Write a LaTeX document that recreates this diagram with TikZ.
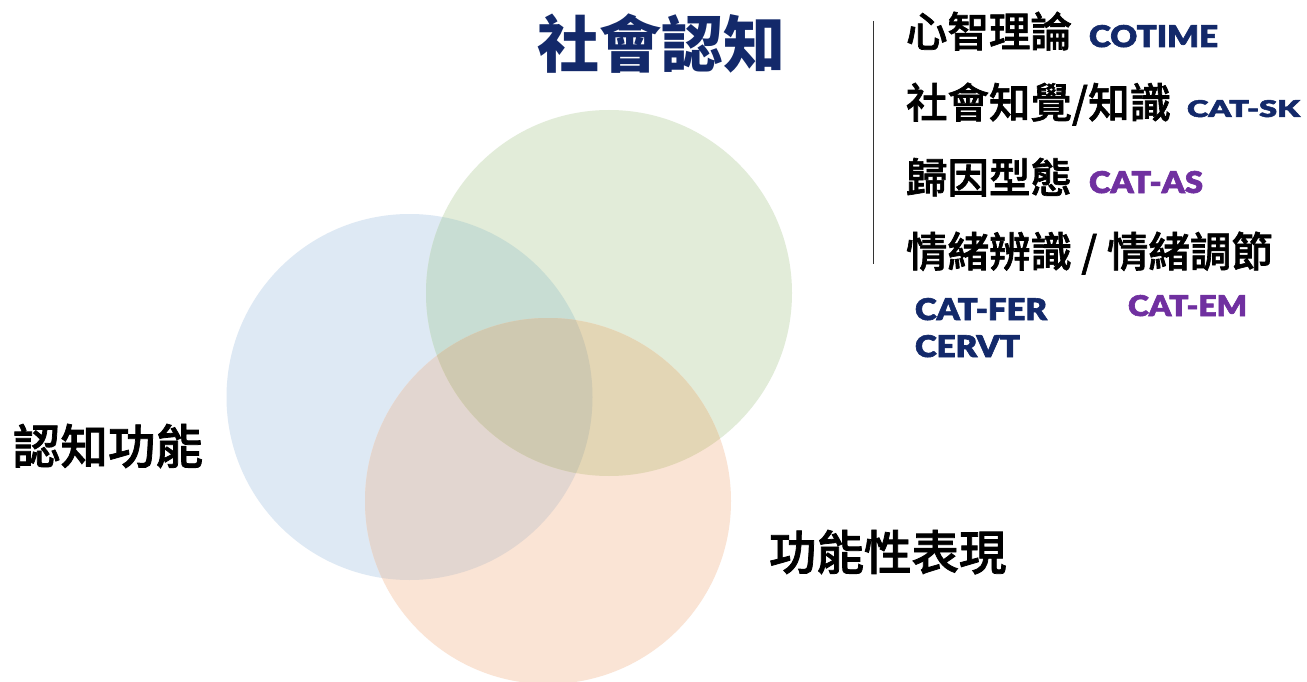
\documentclass[tikz,border=0pt]{standalone}
\usepackage{fontspec}
\usepackage{graphicx}
\newfontfamily\cjk{Noto Sans CJK TC}
\newfontfamily\cjkm[FakeBold=1.6]{Noto Sans CJK TC Medium}
\newfontfamily\latf[FakeBold=2]{Lato Black}
\newcommand\fitlat[3]{\resizebox{#1pt}{#2pt}{\latf #3}}
\definecolor{navy}{HTML}{13296A}
\definecolor{purp}{HTML}{7030A0}
\definecolor{cB}{HTML}{DEE9F4}
\definecolor{cG}{HTML}{E2ECD9}
\definecolor{cO}{HTML}{FAE4D5}
\definecolor{cBG}{HTML}{C8DDD3}
\definecolor{cBO}{HTML}{E2D6D0}
\definecolor{cGO}{HTML}{E3D6B5}
\definecolor{cBGO}{HTML}{CFC9B1}
\tikzset{
  lbl/.style={anchor=base west,inner sep=0pt,outer sep=0pt},
  cjkt/.style={lbl,font=\cjkm\fontsize{#1}{#1}\selectfont,text=black},
  titlet/.style={lbl,font=\cjk\bfseries\fontsize{62}{62}\selectfont,text=navy},
  latt/.style={lbl},
}
\begin{document}
\begin{tikzpicture}[x=1pt,y=-1pt]
\useasboundingbox (0,0) rectangle (1307,682);
\fill[white] (0,0) rectangle (1307,682);
% circles
\fill[cB] (409.5,397) circle[radius=183pt];
\fill[cG] (609,293) circle[radius=183pt];
\fill[cO] (548,501) circle[radius=183pt];
\begin{scope}
  \clip (409.5,397) circle[radius=183pt];
  \fill[cBG] (609,293) circle[radius=183pt];
  \fill[cBO] (548,501) circle[radius=183pt];
\end{scope}
\begin{scope}
  \clip (609,293) circle[radius=183pt];
  \fill[cGO] (548,501) circle[radius=183pt];
\end{scope}
\begin{scope}
  \clip (409.5,397) circle[radius=183pt];
  \clip (609,293) circle[radius=183pt];
  \fill[cBGO] (548,501) circle[radius=183pt];
\end{scope}
% title
\node[titlet] (title) at (537,67.5) {社會認知};
% separator
\coordinate (sepT) at (873.5,21);
\coordinate (sepB) at (873.5,264);
\draw[line width=1.2pt,black!80] (sepT) -- (sepB);
% list
\node[cjkt=41.5] (l1) at (906,47) {心智理論};
\node[latt,text=navy] (e1) at (1089,47) {\fitlat{129}{22}{COTIME}};
\node[cjkt=41.5] (l2) at (906,118) {社會知覺/知識};
\node[latt,text=navy] (e2) at (1187,117) {\fitlat{113}{17}{CAT-SK}};
\node[cjkt=41.5] (l3) at (906,193) {歸因型態};
\node[latt,text=purp] (e3) at (1089,193) {\fitlat{114}{22}{CAT-AS}};
\node[cjkt=41.5] (l4) at (906,267) {情緒辨識 / 情緒調節};
\node[latt,text=navy] (e4) at (915,320) {\fitlat{132}{22}{CAT-FER}};
\node[latt,text=navy] (e5) at (915,357) {\fitlat{105}{22}{CERVT}};
\node[latt,text=purp] (e6) at (1128,316) {\fitlat{119}{21}{CAT-EM}};
% circle labels
\node[cjkt=47.5] (cog) at (13,464) {認知功能};
\node[cjkt=47.5] (fun) at (769,570) {功能性表現};
\end{tikzpicture}
\end{document}
